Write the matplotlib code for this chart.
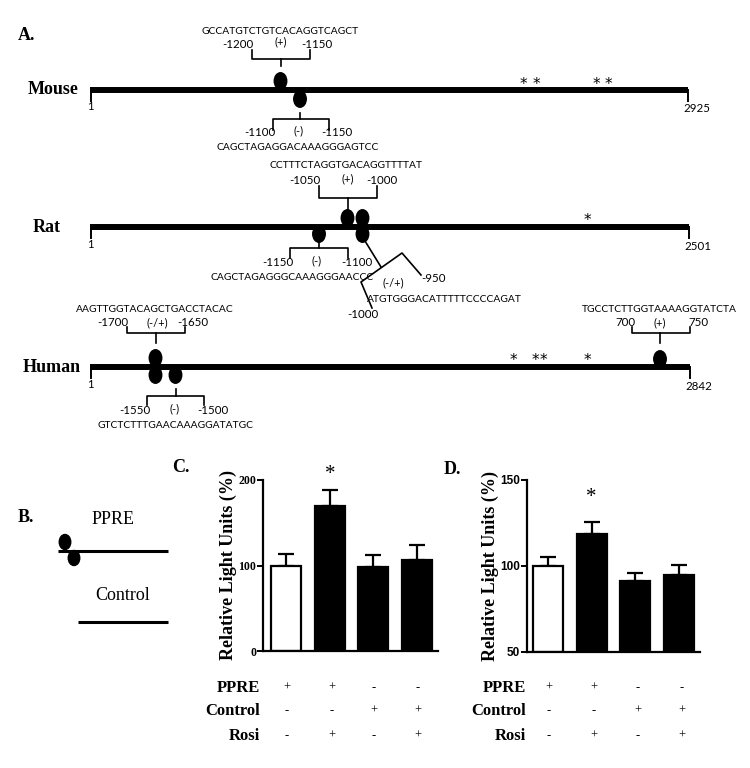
import matplotlib.pyplot as plt
from matplotlib.patches import Ellipse

# bar data (panels C and D)
conditions = ["PPRE only", "PPRE + Rosi", "Control", "Control + Rosi"]
rlu_c = [100, 170, 98, 107]
err_c = [13, 18, 14, 17]
rlu_d = [100, 118.5, 91, 94.5]
err_d = [5, 7, 5, 6]
bar_colors = ["white", "black", "black", "black"]

# table below the bars
row_names = ["PPRE", "Control", "Rosi"]
ppre_signs = ["+", "+", "-", "-"]
control_signs = ["-", "-", "+", "+"]
rosi_signs = ["-", "+", "-", "+"]

# promoter schematic text
species = ["Mouse", "Rat", "Human"]
gene_lengths = ["2925", "2501", "2842"]
mouse_seqs = ["GCCATGTCTGTCACAGGTCAGCT", "CAGCTAGAGGACAAAGGGAGTCC"]
rat_seqs = ["CCTTTCTAGGTGACAGGTTTTAT", "CAGCTAGAGGGCAAAGGGAACCC",
            "ATGTGGGACATTTTTCCCCAGAT"]
human_seqs = ["AAGTTGGTACAGCTGACCTACAC", "GTCTCTTTGAACAAAGGATATGC",
              "TGCCTCTTGGTAAAAGGTATCTA"]

SERIF = "Liberation Serif"
SANS = "Lato"

fig = plt.figure(figsize=(7.5, 7.68), dpi=100)
ax0 = fig.add_axes([0, 0, 1, 1])
ax0.set_xlim(0, 750)
ax0.set_ylim(768, 0)
ax0.axis("off")


def oval(x, y, w=12.5, h=16.5):
    ax0.add_patch(Ellipse((x, y), w, h, color="black", zorder=3))


def bracket(x1, x2, y, arm, tick, xc=None):
    # arms go toward the text, centre tick toward the oval
    xc = (x1 + x2) / 2 if xc is None else xc
    ax0.plot([x1, x1, x2, x2], [y + arm, y, y, y + arm], color="black", lw=1.2)
    ax0.plot([xc, xc], [y, y + tick], color="black", lw=1.2)


def seq_text(x, y, s, size=7.4):
    ax0.text(x, y, s, ha="center", va="center", fontsize=size, family=SANS)


def num_text(x, y, s, size=8.3):
    ax0.text(x, y, s, ha="center", va="center", fontsize=size, family=SANS)


def star(x, y):
    ax0.text(x, y + 3, "*", ha="center", va="center", fontsize=11,
             family="DejaVu Sans")


def gene_line(y, x_end, name, name_x, length):
    ax0.plot([90, x_end], [y, y], color="black", lw=4.3, solid_capstyle="butt")
    ax0.plot([90.5, 90.5], [y, y + 11], color="black", lw=1.4)
    ax0.plot([x_end - 0.5, x_end - 0.5], [y, y + 11], color="black", lw=1.4)
    num_text(90.5, y + 17, "1", size=8)
    num_text(x_end + 9, y + 19, length, size=8.3)
    ax0.text(name_x, y, name, ha="center", va="center", fontsize=13,
             family=SERIF, fontweight="bold")


ax0.text(18, 35, "A.", ha="left", va="center", fontsize=13, family=SERIF,
         fontweight="bold")

# Mouse
gene_line(90, 688, species[0], 53, gene_lengths[0])
oval(280.5, 81)
oval(300, 99)
bracket(252, 310, 59, -9, 7, xc=281)
num_text(238, 45, "-1200")
num_text(281, 42, "(+)", size=8)
num_text(317, 45, "-1150")
seq_text(280, 32, mouse_seqs[0])
bracket(273, 329, 119, 11, -6, xc=300)
num_text(260, 133, "-1100")
num_text(299, 131, "(-)", size=8)
num_text(337, 133, "-1150")
seq_text(298, 147, mouse_seqs[1])
for sx in [523, 536, 596, 608]:
    star(sx, 81)

# Rat
gene_line(227, 689, species[1], 47, gene_lengths[1])
oval(347.5, 218)
oval(362.5, 218)
oval(362.5, 234)
oval(319, 234)
bracket(319, 377, 198, -12, 12, xc=348)
num_text(305, 180, "-1050")
num_text(348, 179, "(+)", size=8)
num_text(382, 180, "-1000")
seq_text(345.5, 166, rat_seqs[0])
bracket(290, 348, 248, 10, -7, xc=319)
num_text(278, 263, "-1150")
num_text(317, 261, "(-)", size=8)
num_text(357, 263, "-1100")
seq_text(292, 277, rat_seqs[1])
# tilted (-/+) bracket
ax0.plot([365, 381], [241, 267], color="black", lw=1.2)
ax0.plot([372, 361, 402, 421], [308, 282, 253, 275], color="black", lw=1.2)
num_text(393, 283, "(-/+)", size=8)
num_text(434, 278, "-950")
num_text(363, 315, "-1000")
seq_text(444, 300, rat_seqs[2])
star(587, 217)

# Human
gene_line(367, 690, species[2], 52, gene_lengths[2])
oval(155.5, 358)
oval(155.5, 375)
oval(175.5, 375)
bracket(127, 185, 333, -6, 10, xc=155.5)
num_text(113, 323, "-1700")
num_text(157, 323, "(-/+)", size=8)
num_text(193, 323, "-1650")
seq_text(155, 310, human_seqs[0])
bracket(147, 204, 396, 9, -7, xc=175.5)
num_text(135, 410, "-1550")
num_text(175, 409, "(-)", size=8)
num_text(213, 410, "-1500")
seq_text(175, 425, human_seqs[1])
oval(660, 359)
bracket(632, 690, 333, -6, 10, xc=660)
num_text(625, 323, "700")
num_text(660, 323, "(+)", size=8)
num_text(698, 323, "750")
seq_text(659, 310, human_seqs[2])
for sx in [513, 535, 543, 587]:
    star(sx, 357)

# Panel B
ax0.text(18, 518, "B.", ha="left", va="center", fontsize=13, family=SERIF,
         fontweight="bold")
ax0.text(113, 520, "PPRE", ha="center", va="center", fontsize=13, family=SERIF)
ax0.plot([58, 168], [551, 551], color="black", lw=2.2, solid_capstyle="butt")
oval(65, 542, 11.5, 15)
oval(74, 558, 11.5, 15)
ax0.text(123, 596, "Control", ha="center", va="center", fontsize=13,
         family=SERIF)
ax0.plot([78, 168], [622, 622], color="black", lw=2.2, solid_capstyle="butt")


def bar_panel(rect, values, errs, ylim, xlim, ticks, tick_font, label,
              label_xy, table_right, centers_px, star_y):
    ax = fig.add_axes(rect)
    x = list(range(len(values)))
    heights = [v - ylim[0] for v in values]
    ax.bar(x, heights, bottom=ylim[0], width=0.69, color=bar_colors,
           edgecolor="black", linewidth=1.6, zorder=2)
    ax.errorbar(x, values, yerr=[[0] * len(errs), errs], fmt="none",
                ecolor="black", elinewidth=1.6, capsize=6, capthick=1.6,
                zorder=1)
    ax.set_ylim(*ylim)
    ax.set_xlim(*xlim)
    ax.set_yticks(ticks)
    ax.set_yticklabels([str(t) for t in ticks], fontsize=8.5,
                       fontweight="bold", family=tick_font)
    ax.set_xticks([])
    for side in ["top", "right"]:
        ax.spines[side].set_visible(False)
    for side in ["left", "bottom"]:
        ax.spines[side].set_linewidth(1.6)
    ax.tick_params(axis="y", direction="out", length=4, width=1.4, pad=1)
    ax.set_ylabel("Relative Light Units (%)", fontsize=13, fontweight="bold",
                  family=SERIF, labelpad=1)
    ax.text(1, star_y, "*", ha="center", va="center", fontsize=15,
            family=SERIF)
    ax0.text(label_xy[0], label_xy[1], label, ha="left", va="center",
             fontsize=13, family=SERIF, fontweight="bold")
    rows_y = [688, 711, 736]
    for name, ry, signs in zip(row_names, rows_y,
                               [ppre_signs, control_signs, rosi_signs]):
        ax0.text(table_right, ry, name, ha="right", va="center", fontsize=12,
                 family=SERIF, fontweight="bold")
        for cx, s in zip(centers_px, signs):
            ax0.text(cx, ry, s, ha="center", va="center", fontsize=9,
                     family=SERIF)
    return ax


bar_panel([263 / 750, (768 - 651) / 768, (438 - 263) / 750, 171 / 768],
          rlu_c, err_c, (0, 200), (-0.53, 3.48), [0, 100, 200], SERIF, "C.",
          (172, 468), 260, [287, 332, 374, 418], 206)
bar_panel([527 / 750, (768 - 652) / 768, (700 - 527) / 750, 172 / 768],
          rlu_d, err_d, (50, 150), (-0.48, 3.48), [50, 100, 150],
          "Liberation Sans", "D.", (444, 470), 526, [549, 594, 638, 682], 140)

fig.savefig("out.png", dpi=100)
